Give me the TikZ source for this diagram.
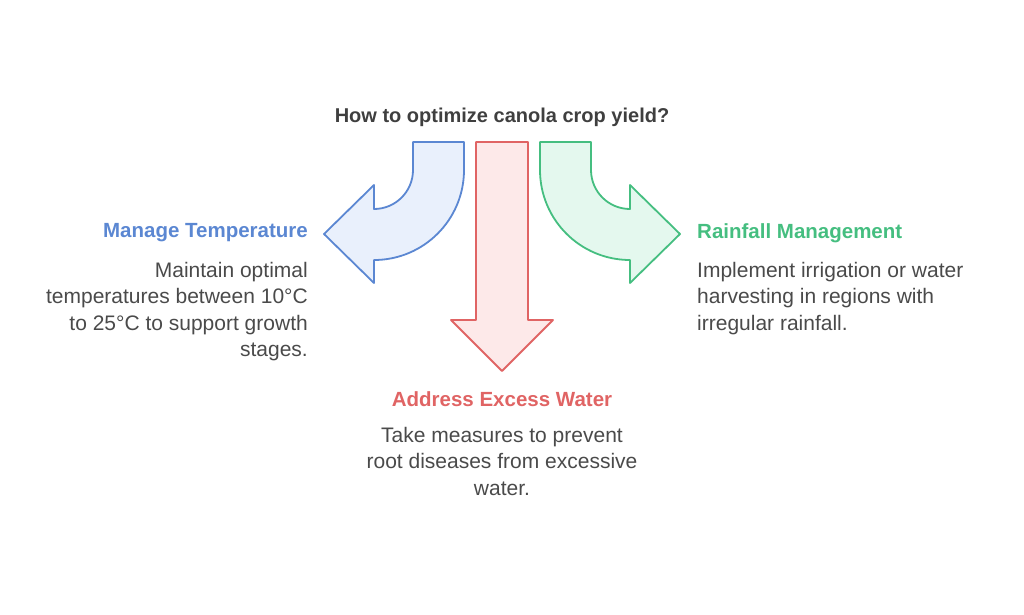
\documentclass[tikz,border=0pt]{standalone}
\usepackage{fontspec}
\setmainfont{Liberation Sans}
\usetikzlibrary{positioning}

\definecolor{titlegray}{HTML}{3F3F3F}
\definecolor{bodygray}{HTML}{4A4A4A}
\definecolor{templine}{HTML}{5B87D2}
\definecolor{tempfill}{HTML}{E9F0FC}
\definecolor{waterline}{HTML}{E06464}
\definecolor{waterfill}{HTML}{FDE9E9}
\definecolor{rainline}{HTML}{45BE80}
\definecolor{rainfill}{HTML}{E4F8EE}

\begin{document}
\begin{tikzpicture}[x=1pt,y=-1pt,line join=round,
  every node/.style={inner sep=0pt},
  head/.style={font=\fontsize{20.5}{24}\selectfont\bfseries},
  body/.style={font=\fontsize{21}{26.5}\selectfont,text=bodygray},
  pipe/.style={line width=1.8pt}]

\useasboundingbox (0,0) rectangle (1024,614);

\node[head,font=\fontsize{20}{24}\selectfont\bfseries,text=titlegray](q) at (502,117){How to optimize canola crop yield?};

% left bend
\filldraw[pipe,draw=templine,fill=tempfill]
  (413,142) -- (464,142) -- (464,170) arc[start angle=0,end angle=90,radius=90]
  -- (374,283) -- (324,234) -- (374,185) -- (374,209)
  arc[start angle=90,end angle=0,radius=39] -- cycle;

% straight down
\filldraw[pipe,draw=waterline,fill=waterfill]
  (476,142) -- (528,142) -- (528,320) -- (553,320) -- (502,371)
  -- (451,320) -- (476,320) -- cycle;

% right bend
\filldraw[pipe,draw=rainline,fill=rainfill]
  (591,142) -- (540,142) -- (540,170) arc[start angle=180,end angle=90,radius=90]
  -- (630,283) -- (680,234) -- (630,185) -- (630,209)
  arc[start angle=90,end angle=180,radius=39] -- cycle;

\node[head,text=templine,anchor=east](temp) at (308,233){Manage Temperature};
\node[body,align=right,anchor=north east](tempt) at (308,262)
  {Maintain optimal\\temperatures between 10°C\\to 25°C to support growth\\stages.};

\node[head,text=rainline,anchor=west](rain) at (697,233){Rainfall Management};
\node[body,align=left,anchor=north west](raint) at (697,262)
  {Implement irrigation or water\\harvesting in regions with\\irregular rainfall.};

\node[head,text=waterline](water) at (502,399){Address Excess Water};
\node[body,align=center,anchor=north](watert) at (502,427)
  {Take measures to prevent\\root diseases from excessive\\water.};

\end{tikzpicture}
\end{document}
